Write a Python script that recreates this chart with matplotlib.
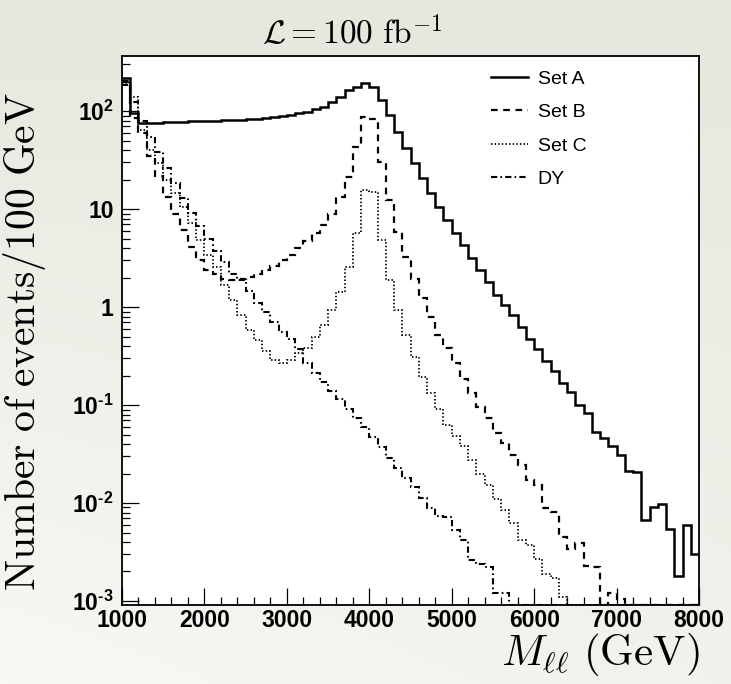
import numpy as np
import matplotlib
matplotlib.use("Agg")
import matplotlib.pyplot as plt
from matplotlib.lines import Line2D

plt.rcParams["font.family"] = ["Liberation Sans", "DejaVu Sans"]
plt.rcParams["mathtext.fontset"] = "custom"
plt.rcParams["mathtext.rm"] = "Liberation Sans:bold"
plt.rcParams["mathtext.bf"] = "Liberation Sans:bold"

# ---------- data: events per 100 GeV bin, 1000-8000 GeV ----------
bin_edges = np.arange(1000, 8001, 100)

set_a = [220, 96, 75, 75, 76, 77, 77, 78, 79, 79,
         80, 80, 81, 82, 82, 83, 84, 85, 87, 89,
         91, 95, 98, 105, 110, 123, 139, 163, 177, 193,
         177, 129, 91, 61, 42, 29.5, 20.8, 14.5, 10.5, 7.7,
         5.7, 4.3, 3.2, 2.4, 1.8, 1.33, 1.05, 0.83, 0.63, 0.47,
         0.37, 0.28, 0.22, 0.167, 0.137, 0.10, 0.082, 0.053, 0.046, 0.038,
         0.031, 0.021, 0.0205, 0.0067, 0.0091, 0.0098, 0.0054, 0.0018, 0.006, 0.003]

set_b = [205, 85, 60, 34.7, 21.7, 13.4, 9.0, 6.1, 4.1, 3.0,
         2.4, 2.2, 1.95, 1.9, 1.95, 2.05, 2.2, 2.4, 2.6, 3.0,
         3.4, 4.0, 4.7, 5.65, 6.9, 9.0, 13.4, 21.3, 43, 87,
         84, 30.3, 12.4, 5.87, 3.26, 1.92, 1.23, 0.80, 0.52, 0.38,
         0.27, 0.186, 0.132, 0.096, 0.074, 0.052, 0.041, 0.031, 0.0244, 0.0171,
         0.0152, 0.0088, 0.0081, 0.0045, 0.0034, 0.0039, 0.0023, 0.0022, 0, 0.0012,
         0.00105, 0, 0, 0, 0, 0, 0, 0, 0, 0]

set_c = [195, 140, 64, 40, 29.5, 19.8, 14.5, 10.6, 7.2, 4.8,
         3.4, 2.58, 1.68, 1.18, 0.83, 0.58, 0.46, 0.36, 0.29, 0.27,
         0.29, 0.34, 0.38, 0.50, 0.66, 0.93, 1.43, 2.58, 5.65, 15.6,
         15, 4.8, 1.89, 0.93, 0.52, 0.31, 0.195, 0.132, 0.092, 0.062,
         0.048, 0.038, 0.0275, 0.020, 0.0152, 0.011, 0.0085, 0.0062, 0.0042, 0.0037,
         0.0027, 0.0019, 0.0017, 0.0011, 0, 0, 0, 0, 0, 0,
         0, 0, 0, 0, 0, 0, 0, 0, 0, 0]

dy = [185, 125, 80, 55, 38, 26, 18.5, 13, 9.2, 6.7,
      4.9, 3.7, 2.9, 2.2, 1.9, 1.45, 1.1, 0.88, 0.7, 0.56,
      0.47, 0.37, 0.27, 0.21, 0.17, 0.14, 0.115, 0.092, 0.074, 0.059,
      0.047, 0.037, 0.029, 0.023, 0.018, 0.0145, 0.0112, 0.0088, 0.0073, 0.0072,
      0.0053, 0.0042, 0.0026, 0.0024, 0.0022, 0.0012, 0.0012, 0, 0, 0,
      0, 0, 0, 0, 0, 0, 0, 0, 0, 0,
      0, 0, 0, 0, 0, 0, 0, 0, 0, 0]

labels = ["Set A", "Set B", "Set C", "DY"]

x_ticks = [1000, 2000, 3000, 4000, 5000, 6000, 7000, 8000]
y_ticks = [1e-3, 1e-2, 1e-1, 1, 10, 100]
y_tick_labels = [r"$\mathbf{10^{\text{-}3}}$", r"$\mathbf{10^{\text{-}2}}$",
                 r"$\mathbf{10^{\text{-}1}}$", "1", "10", r"$\mathbf{10^{2}}$"]

ymin, ymax = 9.1e-4, 365

# ---------- figure ----------
W, H = 731, 684
fig = plt.figure(figsize=(W / 100, H / 100), dpi=100)

# greyish backdrop, lighter towards the bottom left
bg = fig.add_axes([0, 0, 1, 1], zorder=-10)
gy = np.linspace(0, 1, 200)[:, None]
gx = np.linspace(0, 1, 200)[None, :]
light = np.clip(0.55 * gy + 0.35 * gy * (1 - gx), 0, 1)
top_col = np.array([232, 231, 222]) / 255
bot_col = np.array([250, 250, 247]) / 255
img = top_col + light[..., None] * (bot_col - top_col)
bg.imshow(img, aspect="auto", extent=[0, 1, 0, 1], origin="upper")
bg.axis("off")

ax = fig.add_axes([122 / W, 1 - 605 / H, (699 - 122) / W, (605 - 56) / H])
ax.set_facecolor("white")

styles = [
    dict(linestyle="-", linewidth=1.8),
    dict(linestyle=(0, (3, 2.5)), linewidth=1.6),
    dict(linestyle=(0, (0.8, 1.2)), linewidth=1.3),
    dict(linestyle=(0, (3, 1.5, 0.8, 1.5)), linewidth=1.5),
]

for vals, st in zip([set_a, set_b, set_c, dy], styles):
    v = np.asarray(vals, dtype=float)
    v = np.where(v > 0, v, ymin)
    ax.stairs(v, bin_edges, baseline=None, color="black", **st)

ax.set_yscale("log")
ax.set_xlim(1000, 8000)
ax.set_ylim(ymin, ymax)

ax.set_xticks(x_ticks)
ax.set_xticks(np.arange(1000, 8001, 200), minor=True)
ax.set_xticklabels([str(t) for t in x_ticks])
ax.set_yticks(y_ticks)
ax.set_yticklabels(y_tick_labels)
ax.yaxis.set_minor_locator(matplotlib.ticker.LogLocator(base=10, subs=np.arange(2, 10)))
ax.yaxis.set_minor_formatter(matplotlib.ticker.NullFormatter())

ax.tick_params(which="both", direction="in", top=False, right=False, width=0.9)
ax.tick_params(which="major", length=12)
ax.tick_params(which="minor", length=6)
ax.tick_params(axis="x", which="major", pad=3)
ax.tick_params(axis="y", which="major", pad=6)
for lab in ax.get_xticklabels() + ax.get_yticklabels():
    lab.set_fontsize(16.5)
    lab.set_fontweight("bold")
for sp in ax.spines.values():
    sp.set_linewidth(1.3)

handles = [Line2D([], [], color="black", **st) for st in styles]
ax.legend(handles, labels, loc="upper left", bbox_to_anchor=(491 / W, 1 - 70 / H),
          bbox_transform=fig.transFigure, frameon=False, fontsize=14,
          handlelength=1.9, handletextpad=0.5, labelspacing=0.82,
          borderpad=0, borderaxespad=0)

fig.text(352 / W, 1 - 33 / H, r"$\mathcal{L} = 100\ \mathrm{fb}^{-1}$",
         ha="center", va="center", fontsize=24, math_fontfamily="cm")
fig.text(25 / W, 1 - 342 / H, r"$\mathrm{Number\ of\ events/100\ GeV}$",
         rotation=90, ha="center", va="center", fontsize=30, math_fontfamily="cm")
fig.text(700 / W, 1 - 655 / H, r"$M_{\ell\ell}\ \mathrm{(GeV)}$",
         ha="right", va="center", fontsize=31, math_fontfamily="cm")

fig.savefig("out.png", dpi=100)
